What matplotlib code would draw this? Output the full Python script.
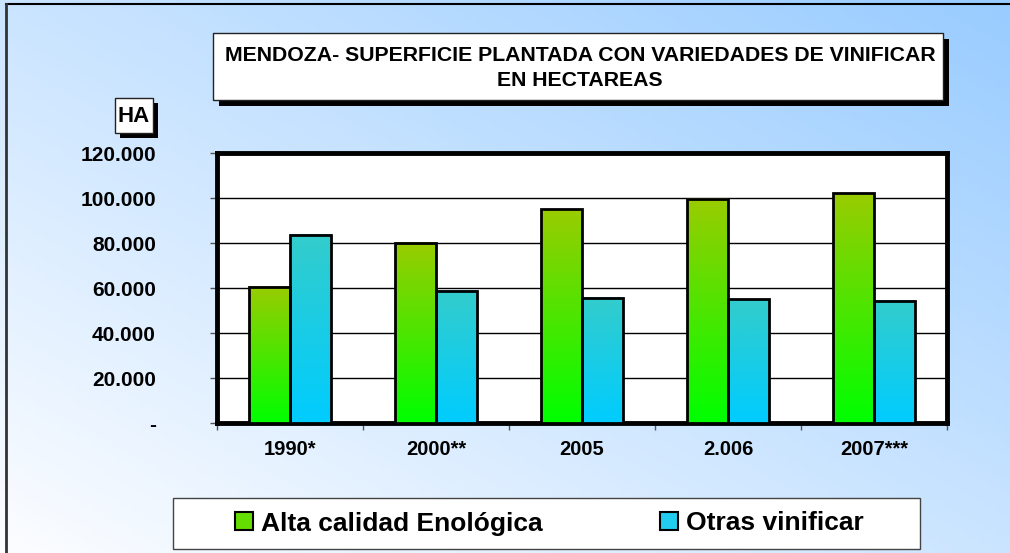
import numpy as np
import matplotlib
matplotlib.use('Agg')
import matplotlib.pyplot as plt
from matplotlib.patches import Rectangle
from matplotlib.lines import Line2D
from matplotlib.colors import LinearSegmentedColormap

plt.rcParams['font.family'] = ['Liberation Sans', 'DejaVu Sans']

# data
years = ['1990*', '2000**', '2005', '2.006', '2007***']
alta_calidad = [60700, 80300, 95100, 99600, 102200]
otras = [83700, 58900, 55600, 55100, 54500]
yticks = [0, 20000, 40000, 60000, 80000, 100000, 120000]
ytick_labels = ['-', '20.000', '40.000', '60.000', '80.000', '100.000', '120.000']

W, H = 1010, 553
fig = plt.figure(figsize=(W / 100, H / 100), dpi=100)

# gradient background
bg = fig.add_axes([0, 0, 1, 1], zorder=-10)
xx, yy = np.meshgrid(np.linspace(0, 1, 200), np.linspace(0, 1, 120))
u = (xx + yy) / 2
white = np.array([252, 253, 255]) / 255
blue = np.array([153, 204, 255]) / 255
img = white[None, None, :] * (1 - u[..., None]) + blue[None, None, :] * u[..., None]
bg.imshow(img, origin='lower', extent=[0, 1, 0, 1], aspect='auto')
bg.set_xlim(0, 1)
bg.set_ylim(0, 1)
bg.axis('off')

# figure border (top and left)
fig.add_artist(Line2D([6 / W, 1], [1 - 4 / H, 1 - 4 / H], color='black', lw=1.5))
fig.add_artist(Line2D([6 / W, 6 / W], [0, 1 - 4 / H], color='#333333', lw=2))

ax = fig.add_axes([217 / W, (H - 423.3) / H, 730 / W, 270 / H])
ax.set_facecolor('white')

x = np.arange(len(years))
bw = 0.28
green_cmap = LinearSegmentedColormap.from_list('g', ['#00FF00', '#99CC00'])
blue_cmap = LinearSegmentedColormap.from_list('b', ['#00CCFF', '#33CCCC'])
grad = np.linspace(0, 1, 100).reshape(-1, 1)

for vals, offs, cmap in [(alta_calidad, -bw / 2, green_cmap), (otras, bw / 2, blue_cmap)]:
    bars = ax.bar(x + offs, vals, bw, facecolor='none', edgecolor='black', lw=2, zorder=4)
    for b in bars:
        ax.imshow(grad, cmap=cmap, origin='lower', aspect='auto', zorder=3,
                  extent=[b.get_x(), b.get_x() + b.get_width(), 0, b.get_height()])

ax.set_xlim(-0.5, len(years) - 0.5)
ax.set_ylim(0, 120000)
ax.set_yticks(yticks)
ax.set_yticklabels(ytick_labels, fontsize=15, fontweight='bold')
ax.yaxis.grid(True, color='black', lw=1)
ax.set_axisbelow(True)

ax.set_xticks(np.arange(-0.5, len(years), 1))
ax.set_xticklabels([])
ax.set_xticks(x, minor=True)
ax.set_xticklabels(years, minor=True, fontsize=14.5, fontweight='bold')
ax.tick_params(axis='x', which='minor', length=0, pad=12)
ax.tick_params(axis='x', which='major', length=5, width=1, color='#555555')
ax.tick_params(axis='y', length=5, width=1, pad=39, color='#555555')
for s in ax.spines.values():
    s.set_linewidth(3.5)
    s.set_color('black')

# title box with shadow
def shadow_box(x0, y0, x1, y1, off):
    fig.add_artist(Rectangle(((x0 + off) / W, (H - y1 - off) / H), (x1 - x0) / W, (y1 - y0) / H,
                             facecolor='black', edgecolor='none', transform=fig.transFigure))
    fig.add_artist(Rectangle((x0 / W, (H - y1) / H), (x1 - x0) / W, (y1 - y0) / H,
                             facecolor='white', edgecolor='#222222', lw=1, transform=fig.transFigure))

shadow_box(213, 33, 943, 100, 6)
fig.text(580 / W, (H - 68) / H, 'MENDOZA- SUPERFICIE PLANTADA CON VARIEDADES DE VINIFICAR\nEN HECTAREAS',
         ha='center', va='center', fontsize=15.3, fontweight='bold', linespacing=1.45)

shadow_box(115, 98, 153, 133, 5)
fig.text(134 / W, (H - 117) / H, 'HA', ha='center', va='center', fontsize=16, fontweight='bold')

# legend
fig.add_artist(Rectangle((173 / W, (H - 549) / H), 747 / W, 51 / H, facecolor='white',
                         edgecolor='#444444', lw=1, transform=fig.transFigure))
handles = [Rectangle((0, 0), 1, 1, facecolor='#66DD00', edgecolor='black', lw=1.5),
           Rectangle((0, 0), 1, 1, facecolor='#22CCEE', edgecolor='black', lw=1.5)]
fig.legend(handles, ['Alta calidad Enológica', 'Otras vinificar'], loc='center',
           bbox_to_anchor=(549 / W, (H - 523.5) / H), ncol=2, frameon=False,
           prop={'size': 19, 'weight': 'bold'}, handlelength=0.68, handleheight=0.68,
           handletextpad=0.3, columnspacing=4.45)

fig.savefig('out.png', dpi=100)
